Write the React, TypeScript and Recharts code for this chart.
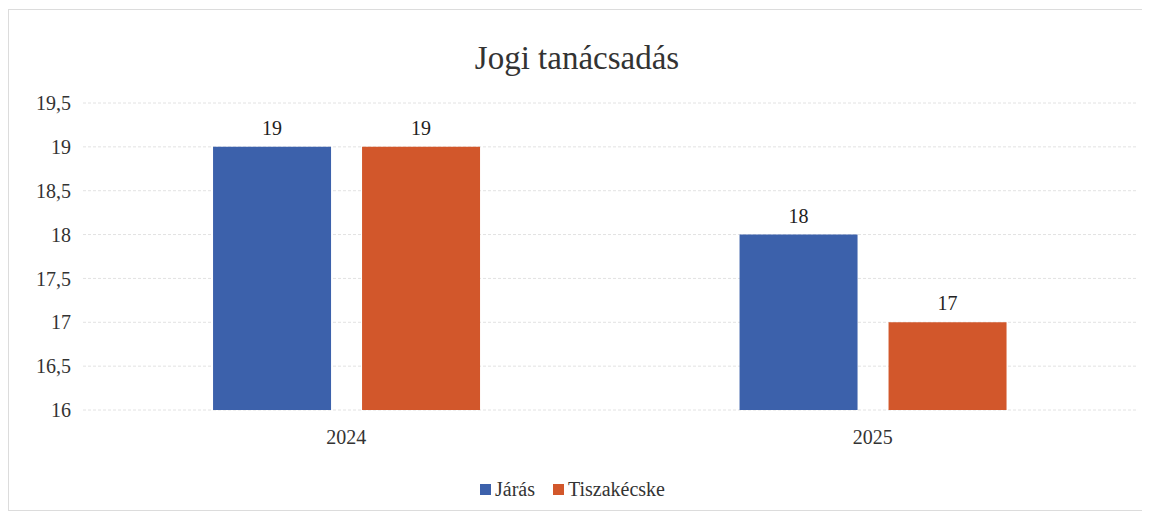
import React from 'react';
import { Bar, BarChart, CartesianGrid, LabelList, Legend, XAxis, YAxis } from 'recharts';

const years = ['2024', '2025'];
const jarasValues = [19, 18];
const tiszakecskeValues = [19, 17];
const yTicks = [16, 16.5, 17, 17.5, 18, 18.5, 19, 19.5];

const data = years.map((year, i) => ({
    year,
    jaras: jarasValues[i],
    tiszakecske: tiszakecskeValues[i],
}));

const font = 'Liberation Serif, DejaVu Serif, serif';
const blue = '#3c61ab';
const orange = '#d2572b';

function LegendContent() {
    const items = [
        { label: 'Járás', color: blue },
        { label: 'Tiszakécske', color: orange },
    ];
    return (
        <div style={{ display: 'flex', justifyContent: 'center', gap: 18, fontFamily: font, fontSize: 20, color: '#333' }}>
            {items.map((it) => (
                <span key={it.label} style={{ display: 'flex', alignItems: 'center' }}>
                    <span style={{ width: 11, height: 11, background: it.color, display: 'inline-block', marginRight: 4 }} />
                    {it.label}
                </span>
            ))}
        </div>
    );
}

export default function App() {
    return (
        <div
            style={{
                position: 'relative',
                width: 1136,
                height: 500,
                border: '1px solid #dcdcdc',
                marginTop: 1,
                background: '#fff',
                fontFamily: font,
            }}
        >
            <div
                style={{
                    position: 'absolute',
                    top: 30,
                    left: 0,
                    width: '100%',
                    textAlign: 'center',
                    fontSize: 33,
                    color: '#333',
                }}
            >
                Jogi tanácsadás
            </div>
            <BarChart
                width={1134}
                height={498}
                data={data}
                margin={{ top: 93, right: 7, bottom: 0, left: 0 }}
                barCategoryGap='24.7%'
                barGap={31}
                style={{ fontFamily: font }}
            >
                <CartesianGrid vertical={false} stroke='#e2e2e2' strokeDasharray='3 2' />
                <XAxis
                    dataKey='year'
                    axisLine={false}
                    tickLine={false}
                    tickSize={0}
                    tickMargin={20}
                    height={75}
                    tick={{ fontSize: 20, fill: '#333', style: { fontFamily: font } }}
                />
                <YAxis
                    domain={[16, 19.5]}
                    ticks={yTicks}
                    width={74}
                    axisLine={false}
                    tickLine={false}
                    tickSize={0}
                    tickMargin={12}
                    interval={0}
                    tickFormatter={(v: number) => String(v).replace('.', ',')}
                    tick={{ fontSize: 20, fill: '#333', style: { fontFamily: font } }}
                />
                <Legend verticalAlign='bottom' content={<LegendContent />} wrapperStyle={{ top: 468 }} />
                <Bar dataKey='jaras' name='Járás' fill={blue} isAnimationActive={false}>
                    <LabelList dataKey='jaras' position='top' offset={12} style={{ fontFamily: font, fontSize: 20, fill: '#222' }} />
                </Bar>
                <Bar dataKey='tiszakecske' name='Tiszakécske' fill={orange} isAnimationActive={false}>
                    <LabelList dataKey='tiszakecske' position='top' offset={12} style={{ fontFamily: font, fontSize: 20, fill: '#222' }} />
                </Bar>
            </BarChart>
        </div>
    );
}
